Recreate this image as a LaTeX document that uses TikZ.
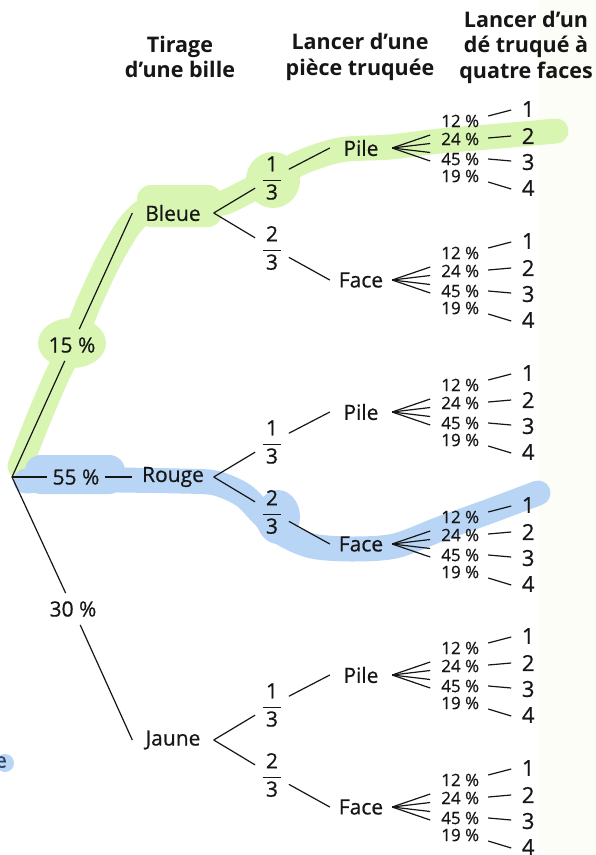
\documentclass[tikz,border=0pt]{standalone}
\usepackage{fontspec}
\usepackage{amsmath}
\setmainfont{Open Sans}[UprightFeatures={FakeBold=0.6}]
\usetikzlibrary{calc}
\definecolor{hlgreen}{RGB}{217,245,178}
\definecolor{hlblue}{RGB}{184,213,246}
\definecolor{ink}{RGB}{22,22,22}
\definecolor{navy}{RGB}{45,62,100}
\definecolor{cream}{RGB}{253,253,247}
\newcommand\fr[2]{$\genfrac{}{}{0.9pt}{0}{\,\text{#1}\,}{\text{#2}}$}
\tikzset{
  tree/.style={line width=1.2pt, draw=ink},
  cat/.style={font=\fontsize{21}{25}\selectfont, text=ink, minimum width=81pt, inner sep=0pt},
  pctlab/.style={font=\fontsize{21}{25}\selectfont, text=ink, inner xsep=5pt, inner ysep=8pt},
  fracnode/.style={font=\fontsize{21}{25}\selectfont, text=ink, inner xsep=6pt, inner ysep=1pt},
  coin/.style={font=\fontsize{21}{25}\selectfont, text=ink, minimum width=62pt, inner sep=0pt},
  small/.style={font=\fontsize{17}{18}\selectfont, text=ink, inner sep=0pt},
  digit/.style={font=\fontsize{22}{24}\selectfont, text=ink, inner sep=0pt},
  head/.style={font=\bfseries\fontsize{21.5}{25.5}\selectfont, text=ink, align=center},
  hl/.style={line width=#1, line cap=round, line join=round},
}
\newcommand\dicefan[1]{%
  \foreach \k/\pc/\py/\fy/\dy/\la/\lb in {1/12/-27/-13/-39/-32/-38,2/24/-9/-4.5/-12/-10/-12,3/45/11/4.5/14/11/13,4/19/28/13/40/34/41}{%
    \node[small] (#1p\k) at ($(#1.east)+(68,\py)$) {\pc\ \%};
    \node[digit] (#1d\k) at ($(#1.east)+(136,\dy)$) {\k};
    \draw[tree] (#1.east) -- ($(#1.east)+(38,\fy)$);
    \draw[tree] ($(#1.east)+(96,\la)$) -- ($(#1.east)+(119,\lb)$);
  }}
\begin{document}
\begin{tikzpicture}[x=1pt,y=-1pt]
\useasboundingbox (0,0) rectangle (596,855);
\fill[white] (0,0) rectangle (596,855);
\fill[cream] (538,0) rectangle (596,855);

% green highlight
\draw[hlgreen, hl=25pt] plot[smooth, tension=0.5] coordinates {(20,466) (38,420) (56,378) (72,345) (88,305) (108,262) (130,225) (152,207) (190,205) (222,203) (250,190) (272,180) (300,163) (340,150) (390,147) (440,141) (500,136) (556,131)};
\fill[hlgreen] (72,343) ellipse [x radius=34, y radius=25];
\fill[hlgreen, rounded corners=14pt] (137,185) rectangle (222,227);
\fill[hlgreen] (273,180) ellipse [x radius=27, y radius=28];

% blue highlight
\draw[hlblue, hl=25pt] plot[smooth, tension=0.5] coordinates {(26,481) (60,479) (120,480) (180,481) (215,483) (243,495) (262,514) (282,533) (312,546) (352,549) (395,546) (440,529) (490,511) (538,493)};
\fill[hlblue, rounded corners=16pt] (25,455) rectangle (125,494);
\fill[hlblue] (278,517) ellipse [x radius=22, y radius=27];

% stray letter at left edge
\fill[hlblue] (5,763) ellipse [x radius=9, y radius=9];
\node[font=\fontsize{21}{25}\selectfont, text=navy, inner sep=0pt] (stray) at (1,762) {e};

% headers
\node[head] (h1) at (180,57) {Tirage\\d’une bille};
\node[head] (h2) at (360,57) {Lancer d’une\\pièce truquée};
\node[head] (h3) at (526,47) {Lancer d’un\\dé truqué à\\quatre faces};

% tree
\coordinate (root) at (12,477);
\node[pctlab] (n15) at (72,345) {15 \%};
\node[pctlab] (n55) at (76,477) {55 \%};
\node[pctlab] (n30) at (73,609) {30 \%};
\node[cat] (bleue) at (173,213) {Bleue};
\node[cat] (rouge) at (173,477) {Rouge};
\node[cat] (jaune) at (173,740) {Jaune};
\draw[tree] (root) -- (n15) -- (bleue.west);
\draw[tree] (root) -- (n55) -- (rouge.west);
\draw[tree] (root) -- (n30) -- (jaune.west);

% fractions and coin outcomes
\foreach \c/\y in {b/213,r/477,j/740}{
  \node[fracnode] (\c f1) at (272,\y-35) {\fr{1}{3}};
  \node[fracnode] (\c f2) at (272,\y+35) {\fr{2}{3}};
  \node[coin] (\c pile) at (361,\y-65) {Pile};
  \node[coin] (\c face) at (361,\y+67) {Face};
}
\draw[tree] (bleue.east) -- (bf1) -- (bpile.west);
\draw[tree] (bleue.east) -- (bf2) -- (bface.west);
\draw[tree] (rouge.east) -- (rf1) -- (rpile.west);
\draw[tree] (rouge.east) -- (rf2) -- (rface.west);
\draw[tree] (jaune.east) -- (jf1) -- (jpile.west);
\draw[tree] (jaune.east) -- (jf2) -- (jface.west);

\dicefan{bpile}
\dicefan{bface}
\dicefan{rpile}
\dicefan{rface}
\dicefan{jpile}
\dicefan{jface}
\end{tikzpicture}
\end{document}
